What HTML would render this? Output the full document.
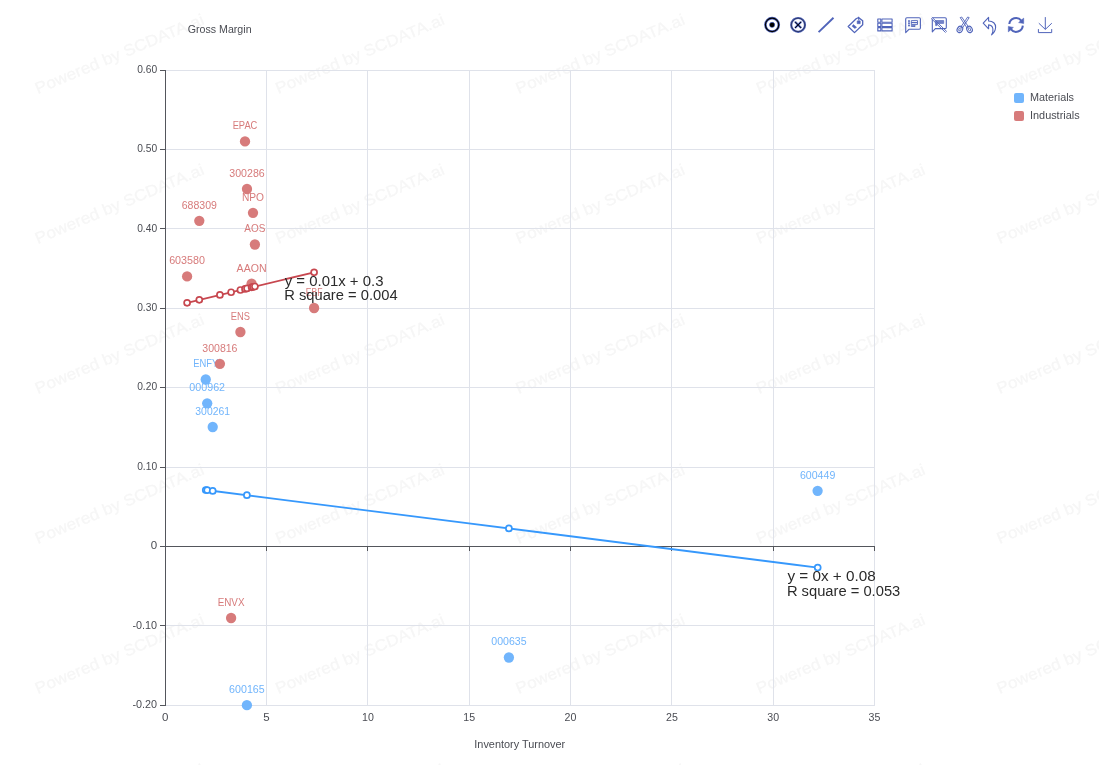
<!DOCTYPE html>
<html><head><meta charset="utf-8"><title>Gross Margin vs Inventory Turnover</title>
<style>html,body{margin:0;padding:0;background:#fff;}svg{display:block}text{font-family:"Liberation Sans",sans-serif;}</style>
</head><body>
<svg width="1099" height="765" viewBox="0 0 1099 765" style="will-change:transform">
<g fill="#f6f6f6" stroke="#f6f6f6" stroke-width="0.3" font-size="16">
<text transform="translate(-202.6,-56.0) rotate(-22.75)" textLength="181.5" lengthAdjust="spacingAndGlyphs">Powered by SCDATA.ai</text>
<text transform="translate(37.8,-56.0) rotate(-22.75)" textLength="181.5" lengthAdjust="spacingAndGlyphs">Powered by SCDATA.ai</text>
<text transform="translate(278.2,-56.0) rotate(-22.75)" textLength="181.5" lengthAdjust="spacingAndGlyphs">Powered by SCDATA.ai</text>
<text transform="translate(518.6,-56.0) rotate(-22.75)" textLength="181.5" lengthAdjust="spacingAndGlyphs">Powered by SCDATA.ai</text>
<text transform="translate(759.0,-56.0) rotate(-22.75)" textLength="181.5" lengthAdjust="spacingAndGlyphs">Powered by SCDATA.ai</text>
<text transform="translate(999.4,-56.0) rotate(-22.75)" textLength="181.5" lengthAdjust="spacingAndGlyphs">Powered by SCDATA.ai</text>
<text transform="translate(-202.6,94.0) rotate(-22.75)" textLength="181.5" lengthAdjust="spacingAndGlyphs">Powered by SCDATA.ai</text>
<text transform="translate(37.8,94.0) rotate(-22.75)" textLength="181.5" lengthAdjust="spacingAndGlyphs">Powered by SCDATA.ai</text>
<text transform="translate(278.2,94.0) rotate(-22.75)" textLength="181.5" lengthAdjust="spacingAndGlyphs">Powered by SCDATA.ai</text>
<text transform="translate(518.6,94.0) rotate(-22.75)" textLength="181.5" lengthAdjust="spacingAndGlyphs">Powered by SCDATA.ai</text>
<text transform="translate(759.0,94.0) rotate(-22.75)" textLength="181.5" lengthAdjust="spacingAndGlyphs">Powered by SCDATA.ai</text>
<text transform="translate(999.4,94.0) rotate(-22.75)" textLength="181.5" lengthAdjust="spacingAndGlyphs">Powered by SCDATA.ai</text>
<text transform="translate(-202.6,244.0) rotate(-22.75)" textLength="181.5" lengthAdjust="spacingAndGlyphs">Powered by SCDATA.ai</text>
<text transform="translate(37.8,244.0) rotate(-22.75)" textLength="181.5" lengthAdjust="spacingAndGlyphs">Powered by SCDATA.ai</text>
<text transform="translate(278.2,244.0) rotate(-22.75)" textLength="181.5" lengthAdjust="spacingAndGlyphs">Powered by SCDATA.ai</text>
<text transform="translate(518.6,244.0) rotate(-22.75)" textLength="181.5" lengthAdjust="spacingAndGlyphs">Powered by SCDATA.ai</text>
<text transform="translate(759.0,244.0) rotate(-22.75)" textLength="181.5" lengthAdjust="spacingAndGlyphs">Powered by SCDATA.ai</text>
<text transform="translate(999.4,244.0) rotate(-22.75)" textLength="181.5" lengthAdjust="spacingAndGlyphs">Powered by SCDATA.ai</text>
<text transform="translate(-202.6,394.0) rotate(-22.75)" textLength="181.5" lengthAdjust="spacingAndGlyphs">Powered by SCDATA.ai</text>
<text transform="translate(37.8,394.0) rotate(-22.75)" textLength="181.5" lengthAdjust="spacingAndGlyphs">Powered by SCDATA.ai</text>
<text transform="translate(278.2,394.0) rotate(-22.75)" textLength="181.5" lengthAdjust="spacingAndGlyphs">Powered by SCDATA.ai</text>
<text transform="translate(518.6,394.0) rotate(-22.75)" textLength="181.5" lengthAdjust="spacingAndGlyphs">Powered by SCDATA.ai</text>
<text transform="translate(759.0,394.0) rotate(-22.75)" textLength="181.5" lengthAdjust="spacingAndGlyphs">Powered by SCDATA.ai</text>
<text transform="translate(999.4,394.0) rotate(-22.75)" textLength="181.5" lengthAdjust="spacingAndGlyphs">Powered by SCDATA.ai</text>
<text transform="translate(-202.6,544.0) rotate(-22.75)" textLength="181.5" lengthAdjust="spacingAndGlyphs">Powered by SCDATA.ai</text>
<text transform="translate(37.8,544.0) rotate(-22.75)" textLength="181.5" lengthAdjust="spacingAndGlyphs">Powered by SCDATA.ai</text>
<text transform="translate(278.2,544.0) rotate(-22.75)" textLength="181.5" lengthAdjust="spacingAndGlyphs">Powered by SCDATA.ai</text>
<text transform="translate(518.6,544.0) rotate(-22.75)" textLength="181.5" lengthAdjust="spacingAndGlyphs">Powered by SCDATA.ai</text>
<text transform="translate(759.0,544.0) rotate(-22.75)" textLength="181.5" lengthAdjust="spacingAndGlyphs">Powered by SCDATA.ai</text>
<text transform="translate(999.4,544.0) rotate(-22.75)" textLength="181.5" lengthAdjust="spacingAndGlyphs">Powered by SCDATA.ai</text>
<text transform="translate(-202.6,694.0) rotate(-22.75)" textLength="181.5" lengthAdjust="spacingAndGlyphs">Powered by SCDATA.ai</text>
<text transform="translate(37.8,694.0) rotate(-22.75)" textLength="181.5" lengthAdjust="spacingAndGlyphs">Powered by SCDATA.ai</text>
<text transform="translate(278.2,694.0) rotate(-22.75)" textLength="181.5" lengthAdjust="spacingAndGlyphs">Powered by SCDATA.ai</text>
<text transform="translate(518.6,694.0) rotate(-22.75)" textLength="181.5" lengthAdjust="spacingAndGlyphs">Powered by SCDATA.ai</text>
<text transform="translate(759.0,694.0) rotate(-22.75)" textLength="181.5" lengthAdjust="spacingAndGlyphs">Powered by SCDATA.ai</text>
<text transform="translate(999.4,694.0) rotate(-22.75)" textLength="181.5" lengthAdjust="spacingAndGlyphs">Powered by SCDATA.ai</text>
<text transform="translate(-202.6,844.0) rotate(-22.75)" textLength="181.5" lengthAdjust="spacingAndGlyphs">Powered by SCDATA.ai</text>
<text transform="translate(37.8,844.0) rotate(-22.75)" textLength="181.5" lengthAdjust="spacingAndGlyphs">Powered by SCDATA.ai</text>
<text transform="translate(278.2,844.0) rotate(-22.75)" textLength="181.5" lengthAdjust="spacingAndGlyphs">Powered by SCDATA.ai</text>
<text transform="translate(518.6,844.0) rotate(-22.75)" textLength="181.5" lengthAdjust="spacingAndGlyphs">Powered by SCDATA.ai</text>
<text transform="translate(759.0,844.0) rotate(-22.75)" textLength="181.5" lengthAdjust="spacingAndGlyphs">Powered by SCDATA.ai</text>
<text transform="translate(999.4,844.0) rotate(-22.75)" textLength="181.5" lengthAdjust="spacingAndGlyphs">Powered by SCDATA.ai</text>
</g>
<g fill="#dfe2ea">
<rect x="165" y="70" width="710" height="1"/>
<rect x="165" y="149" width="710" height="1"/>
<rect x="165" y="228" width="710" height="1"/>
<rect x="165" y="308" width="710" height="1"/>
<rect x="165" y="387" width="710" height="1"/>
<rect x="165" y="467" width="710" height="1"/>
<rect x="165" y="625" width="710" height="1"/>
<rect x="165" y="705" width="710" height="1"/>
<rect x="266" y="70" width="1" height="636"/>
<rect x="367" y="70" width="1" height="636"/>
<rect x="469" y="70" width="1" height="636"/>
<rect x="570" y="70" width="1" height="636"/>
<rect x="671" y="70" width="1" height="636"/>
<rect x="773" y="70" width="1" height="636"/>
<rect x="874" y="70" width="1" height="636"/>
</g>
<g fill="#54565c">
<rect x="165" y="70" width="1" height="636"/>
<rect x="165" y="546" width="710" height="1"/>
<rect x="160" y="70" width="5" height="1"/>
<rect x="160" y="149" width="5" height="1"/>
<rect x="160" y="228" width="5" height="1"/>
<rect x="160" y="308" width="5" height="1"/>
<rect x="160" y="387" width="5" height="1"/>
<rect x="160" y="467" width="5" height="1"/>
<rect x="160" y="546" width="5" height="1"/>
<rect x="160" y="625" width="5" height="1"/>
<rect x="160" y="705" width="5" height="1"/>
<rect x="165" y="546" width="1" height="5"/>
<rect x="266" y="546" width="1" height="5"/>
<rect x="367" y="546" width="1" height="5"/>
<rect x="469" y="546" width="1" height="5"/>
<rect x="570" y="546" width="1" height="5"/>
<rect x="671" y="546" width="1" height="5"/>
<rect x="773" y="546" width="1" height="5"/>
<rect x="874" y="546" width="1" height="5"/>
</g>
<g fill="#4a4c53" font-size="10.7">
<text x="157.1" y="72.8" text-anchor="end" textLength="19.9" lengthAdjust="spacingAndGlyphs">0.60</text>
<text x="157.1" y="152.2" text-anchor="end" textLength="19.9" lengthAdjust="spacingAndGlyphs">0.50</text>
<text x="157.1" y="231.6" text-anchor="end" textLength="19.9" lengthAdjust="spacingAndGlyphs">0.40</text>
<text x="157.1" y="311.0" text-anchor="end" textLength="19.9" lengthAdjust="spacingAndGlyphs">0.30</text>
<text x="157.1" y="390.4" text-anchor="end" textLength="19.9" lengthAdjust="spacingAndGlyphs">0.20</text>
<text x="157.1" y="469.8" text-anchor="end" textLength="19.9" lengthAdjust="spacingAndGlyphs">0.10</text>
<text x="157.1" y="549.2" text-anchor="end" textLength="6.4" lengthAdjust="spacingAndGlyphs">0</text>
<text x="157.1" y="628.6" text-anchor="end" textLength="24.6" lengthAdjust="spacingAndGlyphs">-0.10</text>
<text x="157.1" y="708.0" text-anchor="end" textLength="24.6" lengthAdjust="spacingAndGlyphs">-0.20</text>
<text x="165.2" y="721" text-anchor="middle" textLength="6.4" lengthAdjust="spacingAndGlyphs">0</text>
<text x="266.5" y="721" text-anchor="middle" textLength="6.4" lengthAdjust="spacingAndGlyphs">5</text>
<text x="367.9" y="721" text-anchor="middle" textLength="11.8" lengthAdjust="spacingAndGlyphs">10</text>
<text x="469.2" y="721" text-anchor="middle" textLength="11.8" lengthAdjust="spacingAndGlyphs">15</text>
<text x="570.5" y="721" text-anchor="middle" textLength="11.8" lengthAdjust="spacingAndGlyphs">20</text>
<text x="671.9" y="721" text-anchor="middle" textLength="11.8" lengthAdjust="spacingAndGlyphs">25</text>
<text x="773.2" y="721" text-anchor="middle" textLength="11.8" lengthAdjust="spacingAndGlyphs">30</text>
<text x="874.5" y="721" text-anchor="middle" textLength="11.8" lengthAdjust="spacingAndGlyphs">35</text>
<text x="187.7" y="32.6" textLength="63.9" lengthAdjust="spacingAndGlyphs">Gross Margin</text>
<text x="474.3" y="747.7" textLength="90.9" lengthAdjust="spacingAndGlyphs">Inventory Turnover</text>
</g>
<g fill="#71b5fc" font-size="10.3" text-anchor="middle">
<circle cx="205.75" cy="379.5" r="5.15"/>
<circle cx="207.2" cy="403.3" r="5.15"/>
<circle cx="212.7" cy="427.0" r="5.15"/>
<circle cx="817.6" cy="490.8" r="5.15"/>
<circle cx="508.9" cy="657.5" r="5.15"/>
<circle cx="246.9" cy="705.2" r="5.15"/>
<text x="205.75" y="367.4" textLength="25.0" lengthAdjust="spacingAndGlyphs">ENFY</text>
<text x="207.2" y="391.2" textLength="35.8" lengthAdjust="spacingAndGlyphs">000962</text>
<text x="212.7" y="414.9" textLength="34.7" lengthAdjust="spacingAndGlyphs">300261</text>
<text x="817.6" y="478.7" textLength="35.4" lengthAdjust="spacingAndGlyphs">600449</text>
<text x="508.9" y="645.4" textLength="35.3" lengthAdjust="spacingAndGlyphs">000635</text>
<text x="246.9" y="693.1" textLength="35.6" lengthAdjust="spacingAndGlyphs">600165</text>
</g>
<g fill="#d77b7b" font-size="10.3" text-anchor="middle">
<circle cx="245.0" cy="141.4" r="5.15"/>
<circle cx="247.0" cy="189.0" r="5.15"/>
<circle cx="253.0" cy="212.8" r="5.15"/>
<circle cx="199.3" cy="220.8" r="5.15"/>
<circle cx="254.9" cy="244.5" r="5.15"/>
<circle cx="187.1" cy="276.4" r="5.15"/>
<circle cx="251.6" cy="283.6" r="5.15"/>
<circle cx="314.1" cy="308.0" r="5.15"/>
<circle cx="240.4" cy="332.0" r="5.15"/>
<circle cx="219.9" cy="363.8" r="5.15"/>
<circle cx="231.1" cy="618.0" r="5.15"/>
<text x="245.0" y="129.3" textLength="24.7" lengthAdjust="spacingAndGlyphs">EPAC</text>
<text x="247.0" y="176.9" textLength="35.4" lengthAdjust="spacingAndGlyphs">300286</text>
<text x="253.0" y="200.7" textLength="22.1" lengthAdjust="spacingAndGlyphs">NPO</text>
<text x="199.3" y="208.7" textLength="35.2" lengthAdjust="spacingAndGlyphs">688309</text>
<text x="254.9" y="232.4" textLength="21.1" lengthAdjust="spacingAndGlyphs">AOS</text>
<text x="187.1" y="264.3" textLength="35.9" lengthAdjust="spacingAndGlyphs">603580</text>
<text x="251.6" y="271.5" textLength="30.0" lengthAdjust="spacingAndGlyphs">AAON</text>
<text x="314.1" y="295.9" textLength="16.7" lengthAdjust="spacingAndGlyphs">EBF</text>
<text x="240.4" y="319.9" textLength="19.2" lengthAdjust="spacingAndGlyphs">ENS</text>
<text x="219.9" y="351.7" textLength="35.2" lengthAdjust="spacingAndGlyphs">300816</text>
<text x="231.1" y="605.9" textLength="26.9" lengthAdjust="spacingAndGlyphs">ENVX</text>
</g>
<g stroke="#3698fc" stroke-width="1.8" fill="#fff">
<line x1="205.75" y1="490.0" x2="817.7" y2="567.6"/>
<circle cx="205.75" cy="490.00" r="3.0" stroke-width="1.7"/>
<circle cx="207.2" cy="490.18" r="3.0" stroke-width="1.7"/>
<circle cx="212.7" cy="490.88" r="3.0" stroke-width="1.7"/>
<circle cx="246.9" cy="495.22" r="3.0" stroke-width="1.7"/>
<circle cx="508.9" cy="528.44" r="3.0" stroke-width="1.7"/>
<circle cx="817.7" cy="567.60" r="3.0" stroke-width="1.7"/>
</g>
<g stroke="#c7474f" stroke-width="1.8" fill="#fff">
<line x1="187.1" y1="302.8" x2="314.1" y2="272.3"/>
<circle cx="187.1" cy="302.80" r="3.0" stroke-width="1.7"/>
<circle cx="199.3" cy="299.87" r="3.0" stroke-width="1.7"/>
<circle cx="219.9" cy="294.92" r="3.0" stroke-width="1.7"/>
<circle cx="231.1" cy="292.23" r="3.0" stroke-width="1.7"/>
<circle cx="240.4" cy="290.00" r="3.0" stroke-width="1.7"/>
<circle cx="245.0" cy="288.89" r="3.0" stroke-width="1.7"/>
<circle cx="247.0" cy="288.41" r="3.0" stroke-width="1.7"/>
<circle cx="251.6" cy="287.31" r="3.0" stroke-width="1.7"/>
<circle cx="253.0" cy="286.97" r="3.0" stroke-width="1.7"/>
<circle cx="254.9" cy="286.52" r="3.0" stroke-width="1.7"/>
<circle cx="314.1" cy="272.30" r="3.0" stroke-width="1.7"/>
</g>
<g fill="#2b2b2b" font-size="13.8">
<text x="284.7" y="285.7" textLength="98.8" lengthAdjust="spacingAndGlyphs">y = 0.01x + 0.3</text>
<text x="284.2" y="300.0" textLength="113.4" lengthAdjust="spacingAndGlyphs">R square = 0.004</text>
<text x="787.4" y="581.4" textLength="88.3" lengthAdjust="spacingAndGlyphs">y = 0x + 0.08</text>
<text x="786.9" y="595.6" textLength="113.4" lengthAdjust="spacingAndGlyphs">R square = 0.053</text>
</g>
<rect x="1014" y="93" width="10" height="10" rx="2" fill="#71b5fc"/>
<rect x="1014" y="111" width="10" height="10" rx="2" fill="#d77b7b"/>
<g fill="#4a4c53" font-size="10.7">
<text x="1030.0" y="100.9" textLength="44" lengthAdjust="spacingAndGlyphs">Materials</text>
<text x="1030.0" y="118.9" textLength="49.6" lengthAdjust="spacingAndGlyphs">Industrials</text>
</g>
<g fill="none" stroke="#5064ba" stroke-width="1.1" stroke-linejoin="round">
<circle cx="772.1" cy="24.85" r="6.7" stroke-width="2.6"/>
<circle cx="772.1" cy="24.85" r="6.7" stroke="#000" stroke-width="1.15"/>
<circle cx="772.1" cy="24.85" r="2.5" fill="#000" stroke-width="1"/>
<circle cx="772.1" cy="24.85" r="2.2" fill="#000" stroke="none"/>
<circle cx="798.1" cy="24.9" r="6.9" stroke-width="2.2"/>
<circle cx="798.1" cy="24.9" r="6.8" stroke="#000" stroke-opacity="0.55" stroke-width="0.8"/>
<path d="M795.0,21.8 L801.2,28.0 M801.2,21.8 L795.0,28.0" stroke-width="2.2"/>
<path d="M795.0,21.8 L801.2,28.0 M801.2,21.8 L795.0,28.0" stroke="#000" stroke-width="0.9"/>
<path d="M818.6,32.1 L833.5,17.7" stroke-width="1.9"/>
<path d="M848.2,26.5 L856.4,18.5 L858.8,17.7 L862.7,20.7 L862.7,24.8 L854.5,32.6 Z" stroke-width="1.3"/>
<path d="M858.5,16.8 L858.9,20.5" />
<rect x="857.2" y="20.9" width="3" height="2.8" fill="#5064ba" stroke-width="0.6"/>
<path d="M853.4,24.6 L856.6,27.3 L854.8,28.6 L852.1,26.2 Z" fill="#5064ba" stroke-width="0.5"/>
<rect x="877.8" y="19.0" width="3.0" height="3.3"/>
<rect x="881.9" y="19.0" width="10.2" height="3.3"/>
<rect x="877.8" y="23.3" width="3.0" height="3.3"/>
<rect x="881.9" y="23.3" width="10.2" height="3.3"/>
<rect x="877.8" y="27.6" width="3.0" height="3.3"/>
<rect x="881.9" y="27.6" width="10.2" height="3.3"/>
<path d="M906.9,17.8 H919.2 Q920.4,17.8 920.4,19 V28.1 Q920.4,29.3 919.2,29.3 H908.9 L905.7,32.6 V19 Q905.7,17.8 906.9,17.8 Z"/>
<rect x="908.5" y="20.5" width="1.0" height="1.2" fill="#5064ba" stroke-width="0.7"/>
<rect x="908.5" y="22.7" width="1.0" height="1.2" fill="#5064ba" stroke-width="0.7"/>
<rect x="908.5" y="24.9" width="1.0" height="1.2" fill="#5064ba" stroke-width="0.7"/>
<rect x="911.3" y="20.6" width="6.2" height="2.0" stroke-width="0.9"/>
<rect x="911.3" y="22.6" width="6.2" height="2.0" stroke-width="0.9"/>
<rect x="911.3" y="25.3" width="3.7" height="1.2" stroke-width="0.9"/>
<path d="M932.5,17.8 H945.1 Q946.3,17.8 946.3,19 V27.4 Q946.3,28.6 945.1,28.6 H935.3 L932.3,31.8 V19.5"/>
<path d="M931.0,18.3 L945.6,32.6 M931.9,17.2 L946.8,31.6" stroke-width="0.95"/>
<path d="M935.6,20.5 H943.7 V23.4 H937 V25.6 H935.6 Z" fill="#5064ba" fill-opacity="0.8" stroke-width="0.6"/>
<path d="M960.2,17.6 L961.7,17.0 L968.6,27.0 L967.0,28.0 Z M969.2,17.6 L967.7,17.0 L960.8,27.0 L962.4,28.0 Z" stroke-width="0.9"/>
<ellipse cx="959.9" cy="29.4" rx="2.6" ry="3.3" transform="rotate(30 959.9 29.4)"/>
<ellipse cx="969.5" cy="29.4" rx="2.6" ry="3.3" transform="rotate(-30 969.5 29.4)"/>
<ellipse cx="959.9" cy="29.4" rx="1.0" ry="1.7" transform="rotate(30 959.9 29.4)" stroke-width="0.8"/>
<ellipse cx="969.5" cy="29.4" rx="1.0" ry="1.7" transform="rotate(-30 969.5 29.4)" stroke-width="0.8"/>
<path d="M983.2,23.1 L988.6,17.3 L988.6,21.0 C993,21.0 995.8,23.5 995.6,27.5 C995.4,30.5 993.8,33 991.6,34.8 C993.6,31.5 994,25.3 988.6,24.9 L988.6,28.8 Z"/>
<path d="M1009.3,24.0 A6.7,6.7 0 0 1 1021.3,20.6" stroke-width="2"/>
<path d="M1022.8,25.6 A6.7,6.7 0 0 1 1010.8,29.2" stroke-width="2"/>
<path d="M1023.7,18.1 L1023.7,23.6 L1018.6,22.6 Z" fill="#5064ba" stroke-width="0.5"/>
<path d="M1008.3,31.9 L1008.3,26.4 L1013.4,27.4 Z" fill="#5064ba" stroke-width="0.5"/>
<path d="M1045.3,17.1 V29.3 M1038.8,23.2 L1045.3,29.4 L1051.8,23.2 M1038.4,29.1 V32.6 H1051.7 V29.1" stroke-linejoin="miter" stroke-width="1"/>
</g>
</svg></body></html>
